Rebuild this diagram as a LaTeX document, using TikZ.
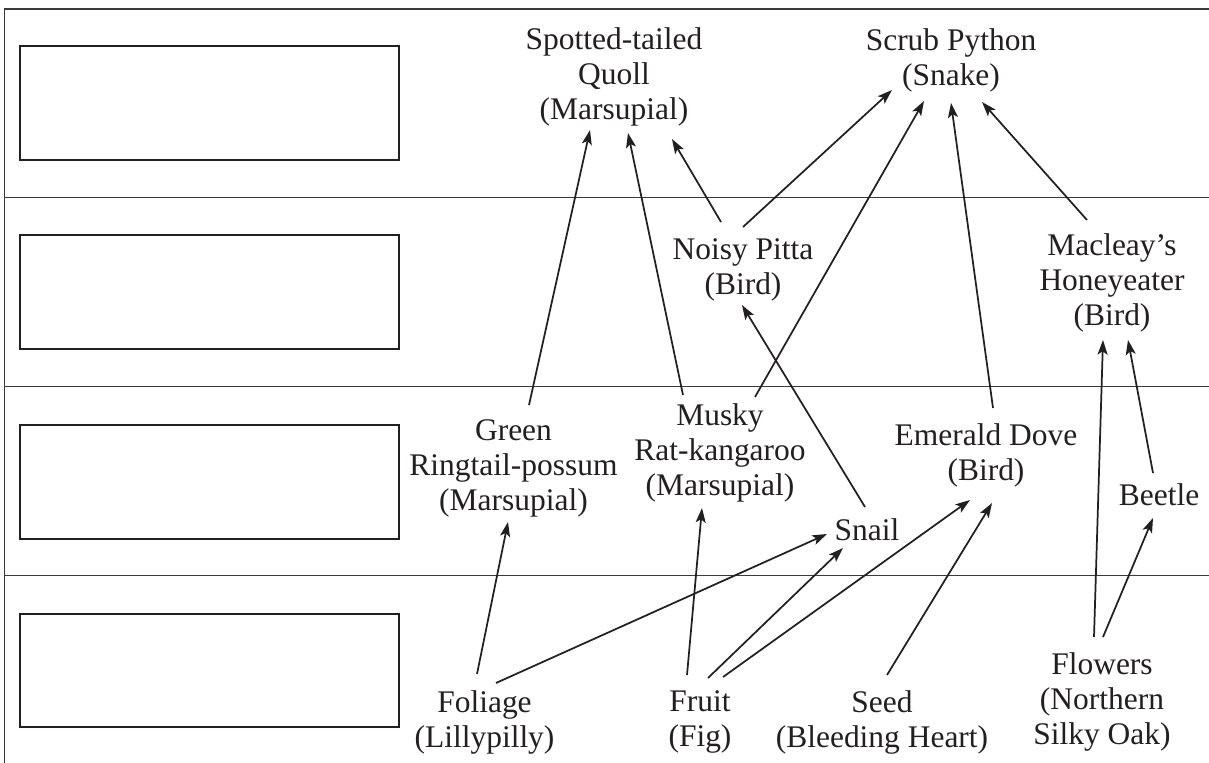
\documentclass[tikz,border=0pt]{standalone}
\usepackage{fontspec}
\setmainfont{Liberation Serif}
\usetikzlibrary{arrows.meta,calc}
\definecolor{ink}{HTML}{231F20}
\definecolor{rule}{HTML}{3A3A3A}
\begin{document}
\begin{tikzpicture}[x=0.75pt,y=-0.75pt,
  sp/.style={inner sep=0pt, anchor=north, align=center, text=ink,
    font=\fontsize{23.6}{26.25}\selectfont},
  arr/.style={draw=ink, line width=1.3pt, -{Stealth[length=11pt,width=7.5pt,inset=2.5pt]}},
  frameline/.style={draw=rule, line width=1pt},
  blank/.style={draw=ink, line width=1.1pt}]
\useasboundingbox (0,0) rectangle (1209,763);
% frame and band lines
\draw[frameline] (4.3,763) -- (4.3,9) -- (1209,9);
\draw[frameline] (4.3,197.7) -- (1209,197.7);
\draw[frameline] (4.3,386.7) -- (1209,386.7);
\draw[frameline] (4.3,575.7) -- (1209,575.7);
% empty boxes
\draw[blank] (20,46) rectangle (399,160);
\draw[blank] (20,235) rectangle (399,349);
\draw[blank] (20,425) rectangle (399,539);
\draw[blank] (20,614) rectangle (399,727);
% organisms
\node[sp] (quoll)   at (614,27)    {Spotted-tailed\\Quoll\\(Marsupial)};
\node[sp] (scrub)   at (951,28)    {Scrub Python\\(Snake)};
\node[sp] (pitta)   at (743,238)   {Noisy Pitta\\(Bird)};
\node[sp] (macleay) at (1112,233)  {Macleay’s\\Honeyeater\\(Bird)};
\node[sp] (green)   at (513.5,419) {Green\\Ringtail-possum\\(Marsupial)};
\node[sp] (musky)   at (720,403)   {Musky\\Rat-kangaroo\\(Marsupial)};
\node[sp] (dove)    at (986,423)   {Emerald Dove\\(Bird)};
\node[sp] (snail)   at (867,518)   {Snail};
\node[sp] (beetle)  at (1159,483)  {Beetle};
\node[sp] (foliage) at (484.5,690) {Foliage\\(Lillypilly)};
\node[sp] (fruit)   at (700,690)   {Fruit\\(Fig)};
\node[sp] (seed)    at (882,690)   {Seed\\(Bleeding Heart)};
\node[sp] (flowers) at (1102,652)  {Flowers\\(Northern\\Silky Oak)};
% feeding links
\newcommand\feeds[4]{\draw[arr] ($(#1.north)+(#2)$) -- ($(#3.north)+(#4)$);}
\feeds{green}{15.5,-14}{quoll}{-24,103}
\feeds{musky}{-37,-8}{quoll}{14,106}
\feeds{pitta}{-22,-16}{quoll}{58,112}
\feeds{pitta}{0,-11}{scrub}{-59,62}
\feeds{musky}{35,-6}{scrub}{-27,73}
\feeds{dove}{7,-15}{scrub}{0,75}
\feeds{macleay}{-25,-13}{scrub}{31,74}
\feeds{snail}{-2,-11}{pitta}{-1,67}
\feeds{flowers}{-8,-15}{macleay}{-9,107}
\feeds{beetle}{-6,-10}{macleay}{16,107}
\feeds{flowers}{1,-15}{beetle}{-6,35}
\feeds{seed}{5,-15}{dove}{6,80}
\feeds{fruit}{23,-13}{dove}{-16,77}
\feeds{fruit}{8,-12}{snail}{-24,30}
\feeds{foliage}{11.5,-7}{snail}{-40,16}
\feeds{foliage}{-7.5,-16}{green}{-5.5,103}
\feeds{fruit}{-13,-15}{musky}{-18,105}
\end{tikzpicture}
\end{document}
